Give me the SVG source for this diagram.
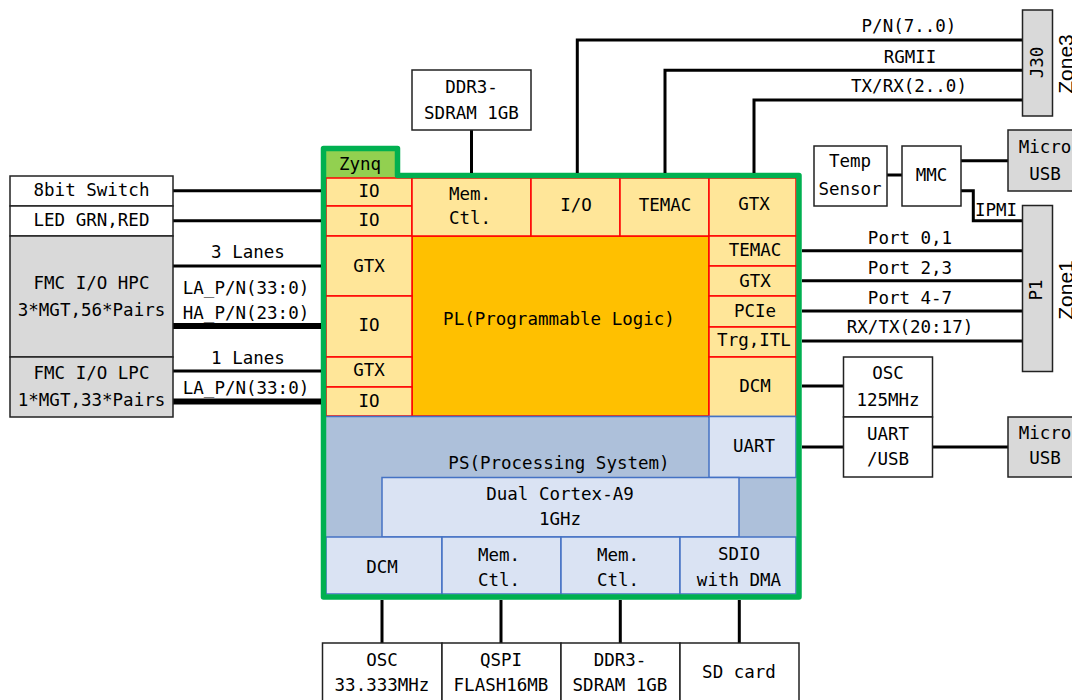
<svg xmlns="http://www.w3.org/2000/svg" width="1072" height="700" viewBox="0 0 1072 700">
<style>
.t{font-family:"DejaVu Sans Mono","Liberation Mono",monospace;font-size:17.5px;fill:#000;text-anchor:middle}
.z{font-family:"Liberation Sans",Arial,sans-serif;font-size:21px;fill:#000;text-anchor:middle}
.box{fill:#fff;stroke:#222;stroke-width:1.5}
.gbox{fill:#d9d9d9;stroke:#222;stroke-width:1.5}
.pl{fill:#ffe699;stroke:#ff0000;stroke-width:1.5}
.ps{fill:#dae3f3;stroke:#4472c4;stroke-width:1.5}
.wire{stroke:#000;stroke-width:3;fill:none}
.bus{stroke:#000;stroke-width:6;fill:none}
</style>
<rect width="1072" height="700" fill="#fff"/>

<!-- Zynq device internals -->
<g id="zynq">
  <rect x="326" y="151" width="70" height="27" fill="#92d050"/>
  <rect x="326" y="416" width="470" height="178" fill="#adc0da"/>
  <g id="pl-core"><rect x="412" y="236" width="297" height="180" fill="#ffc000" stroke="#ff0000" stroke-width="1.5"/>
    <text class="t" x="559" y="325">PL(Programmable Logic)</text></g>
  <g id="io1"><rect class="pl" x="326" y="178" width="86" height="28"/><text class="t" x="369" y="197">IO</text></g>
  <g id="io2"><rect class="pl" x="326" y="206" width="86" height="30"/><text class="t" x="369" y="226">IO</text></g>
  <g id="gtx-l1"><rect class="pl" x="326" y="236" width="86" height="60"/><text class="t" x="369" y="272">GTX</text></g>
  <g id="io3"><rect class="pl" x="326" y="296" width="86" height="61"/><text class="t" x="369" y="331">IO</text></g>
  <g id="gtx-l2"><rect class="pl" x="326" y="357" width="86" height="30"/><text class="t" x="369" y="376">GTX</text></g>
  <g id="io4"><rect class="pl" x="326" y="387" width="86" height="29"/><text class="t" x="369" y="407">IO</text></g>
  <g id="memctl-t"><rect class="pl" x="412" y="178" width="119" height="58"/><text class="t" x="470" y="199.5">Mem.</text><text class="t" x="470" y="224">Ctl.</text></g>
  <g id="io-t"><rect class="pl" x="531" y="178" width="89" height="58"/><text class="t" x="576" y="211">I/O</text></g>
  <g id="temac-t"><rect class="pl" x="620" y="178" width="89" height="58"/><text class="t" x="665" y="211">TEMAC</text></g>
  <g id="gtx-t"><rect class="pl" x="709" y="178" width="87" height="58"/><text class="t" x="754" y="210">GTX</text></g>
  <g id="temac-r"><rect class="pl" x="709" y="236" width="87" height="30"/><text class="t" x="755" y="256">TEMAC</text></g>
  <g id="gtx-r"><rect class="pl" x="709" y="266" width="87" height="30"/><text class="t" x="755" y="286.5">GTX</text></g>
  <g id="pcie"><rect class="pl" x="709" y="296" width="87" height="31"/><text class="t" x="755" y="316.5">PCIe</text></g>
  <g id="trg"><rect class="pl" x="709" y="327" width="87" height="30"/><text class="t" x="754" y="346">Trg,ITL</text></g>
  <g id="dcm-r"><rect class="pl" x="709" y="357" width="87" height="60"/><text class="t" x="755" y="391.5">DCM</text></g>
  <g id="ps"><line x1="326" y1="416.5" x2="796" y2="416.5" stroke="#4472c4" stroke-width="1.5"/>
    <text class="t" x="559" y="469">PS(Processing System)</text></g>
  <g id="uart"><rect class="ps" x="709" y="416.5" width="87" height="61"/><text class="t" x="754" y="451.5">UART</text></g>
  <g id="cortex"><rect class="ps" x="382" y="477.5" width="357" height="59.5"/><text class="t" x="560" y="500">Dual Cortex-A9</text><text class="t" x="560" y="525">1GHz</text></g>
  <g id="dcm-b"><rect class="ps" x="326" y="537" width="116" height="57"/><text class="t" x="382" y="572.5">DCM</text></g>
  <g id="memctl-b1"><rect class="ps" x="442" y="537" width="119" height="57"/><text class="t" x="499" y="560.5">Mem.</text><text class="t" x="499" y="585.5">Ctl.</text></g>
  <g id="memctl-b2"><rect class="ps" x="561" y="537" width="119" height="57"/><text class="t" x="618" y="560.5">Mem.</text><text class="t" x="618" y="585.5">Ctl.</text></g>
  <g id="sdio"><rect class="ps" x="680" y="537" width="116" height="57"/><text class="t" x="739" y="560">SDIO</text><text class="t" x="739" y="585.5">with DMA</text></g>
  <path d="M323.5,148.5 H397.5 V175.5 H799 V597 H323.5 Z" fill="none" stroke="#00b050" stroke-width="5.5" stroke-linejoin="round"/>
  <text class="t" x="360" y="169.5">Zynq</text>
</g>

<!-- connectors -->
<g id="connectors">
  <line class="wire" x1="173" y1="190.7" x2="321" y2="190.7"/>
  <line class="wire" x1="173" y1="220.7" x2="321" y2="220.7"/>
  <line class="wire" x1="173" y1="266" x2="321" y2="266"/>
  <line class="bus" x1="173" y1="326" x2="321" y2="326"/>
  <line class="wire" x1="173" y1="371" x2="321" y2="371"/>
  <line class="bus" x1="173" y1="401.5" x2="321" y2="401.5"/>
  <line class="wire" x1="471.5" y1="130" x2="471.5" y2="173"/>
  <path class="wire" d="M577.3,173 V40 H1022.5"/>
  <path class="wire" d="M665,173 V70.3 H1022.5"/>
  <path class="wire" d="M754,173 V100 H1022.5"/>
  <line class="wire" x1="802" y1="250.7" x2="1022.5" y2="250.7"/>
  <line class="wire" x1="802" y1="280.7" x2="1022.5" y2="280.7"/>
  <line class="wire" x1="802" y1="311" x2="1022.5" y2="311"/>
  <line class="wire" x1="802" y1="341" x2="1022.5" y2="341"/>
  <line class="wire" x1="802" y1="386" x2="843.5" y2="386"/>
  <line class="wire" x1="802" y1="447" x2="843.5" y2="447"/>
  <line class="wire" x1="932.5" y1="447" x2="1008" y2="447"/>
  <line class="wire" x1="887" y1="175" x2="902" y2="175"/>
  <line class="wire" x1="961" y1="160.7" x2="1008" y2="160.7"/>
  <path class="wire" d="M961,190.7 H973.3 V220.7 H1022.5"/>
  <line class="wire" x1="382" y1="600" x2="382" y2="643"/>
  <line class="wire" x1="501" y1="600" x2="501" y2="643"/>
  <line class="wire" x1="620.3" y1="600" x2="620.3" y2="643"/>
  <line class="wire" x1="739.3" y1="600" x2="739.3" y2="643"/>
  <text class="t" x="248" y="258.3">3 Lanes</text>
  <text class="t" x="246" y="294">LA_P/N(33:0)</text>
  <text class="t" x="246" y="319">HA_P/N(23:0)</text>
  <text class="t" x="248" y="363.5">1 Lanes</text>
  <text class="t" x="246" y="394">LA_P/N(33:0)</text>
  <text class="t" x="909" y="32">P/N(7..0)</text>
  <text class="t" x="910" y="62.5">RGMII</text>
  <text class="t" x="909" y="92">TX/RX(2..0)</text>
  <text class="t" x="910" y="244">Port 0,1</text>
  <text class="t" x="910" y="273.5">Port 2,3</text>
  <text class="t" x="910" y="303.5">Port 4-7</text>
  <text class="t" x="910" y="333">RX/TX(20:17)</text>
  <text class="t" x="996" y="215.5">IPMI</text>
</g>

<!-- external nodes -->
<g id="sw"><rect class="box" x="10" y="176" width="163" height="30"/><text class="t" x="91.5" y="196">8bit Switch</text></g>
<g id="led"><rect class="box" x="10" y="206" width="163" height="30"/><text class="t" x="91.5" y="225.5">LED GRN,RED</text></g>
<g id="fmc-hpc"><rect class="gbox" x="10" y="236" width="163" height="121"/><text class="t" x="91.5" y="289">FMC I/O HPC</text><text class="t" x="91.5" y="315.5">3*MGT,56*Pairs</text></g>
<g id="fmc-lpc"><rect class="gbox" x="10" y="357" width="163" height="60"/><text class="t" x="91.5" y="379">FMC I/O LPC</text><text class="t" x="91.5" y="405.5">1*MGT,33*Pairs</text></g>
<g id="ddr3-top"><rect class="box" x="412" y="70" width="119" height="60"/><text class="t" x="471.5" y="92.5">DDR3-</text><text class="t" x="471.5" y="119">SDRAM 1GB</text></g>
<g id="j30"><rect class="gbox" x="1022.5" y="10" width="30" height="106"/>
  <text class="t" transform="translate(1043,62.5) rotate(-90)">J30</text>
  <text class="z" transform="translate(1073,64) rotate(-90)">Zone3</text></g>
<g id="p1"><rect class="gbox" x="1022.5" y="205.5" width="30" height="166"/>
  <text class="t" transform="translate(1042,290) rotate(-90)">P1</text>
  <text class="z" transform="translate(1073,290) rotate(-90)">Zone1</text></g>
<g id="temp"><rect class="box" x="814" y="146" width="73" height="60"/><text class="t" x="850" y="167">Temp</text><text class="t" x="850" y="195">Sensor</text></g>
<g id="mmc"><rect class="box" x="902" y="146" width="59" height="60"/><text class="t" x="931.5" y="181">MMC</text></g>
<g id="usb-top"><rect class="gbox" x="1008" y="130" width="80" height="61"/><text class="t" x="1045" y="152.5">Micro</text><text class="t" x="1045" y="180">USB</text></g>
<g id="osc125"><rect class="box" x="843.5" y="357" width="89" height="60"/><text class="t" x="888" y="379">OSC</text><text class="t" x="888" y="405.5">125MHz</text></g>
<g id="uartusb"><rect class="box" x="843.5" y="417" width="89" height="60"/><text class="t" x="888" y="440">UART</text><text class="t" x="888" y="465">/USB</text></g>
<g id="usb-low"><rect class="gbox" x="1008" y="417" width="80" height="60"/><text class="t" x="1045" y="439">Micro</text><text class="t" x="1045" y="464">USB</text></g>
<g id="osc33"><rect class="box" x="322.5" y="643" width="119.5" height="70"/><text class="t" x="382" y="665.5">OSC</text><text class="t" x="382" y="690.5">33.333MHz</text></g>
<g id="qspi"><rect class="box" x="442" y="643" width="119" height="70"/><text class="t" x="501" y="665.5">QSPI</text><text class="t" x="501" y="690.5">FLASH16MB</text></g>
<g id="ddr3-bot"><rect class="box" x="561" y="643" width="119" height="70"/><text class="t" x="620" y="665.5">DDR3-</text><text class="t" x="620" y="690.5">SDRAM 1GB</text></g>
<g id="sdcard"><rect class="box" x="680" y="643" width="119" height="70"/><text class="t" x="739" y="678">SD card</text></g>
</svg>
